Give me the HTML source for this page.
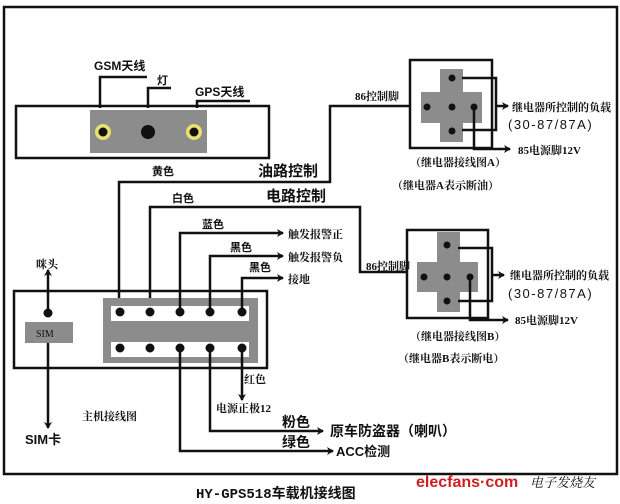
<!DOCTYPE html>
<html><head><meta charset="utf-8"><style>
html,body{margin:0;padding:0;background:#fff;}
svg{display:block;}
text{font-family:"Liberation Sans","Noto Sans CJK SC",sans-serif;fill:#111;}
.s{font-family:"Liberation Serif","Noto Serif CJK SC",serif;}
</style></head><body>
<svg width="620" height="504" viewBox="0 0 620 504" xmlns="http://www.w3.org/2000/svg">
<defs>
<marker id="a" markerWidth="8" markerHeight="8" refX="6" refY="4" orient="auto" markerUnits="userSpaceOnUse">
<path d="M0,0 L7,4 L0,8 L2,4 z" fill="#111"/></marker>
</defs>
<g fill="none" stroke="#111" stroke-width="2.5">
<rect x="4" y="7" width="613" height="467"/>
<rect x="16" y="106" width="253" height="52"/>
</g>
<rect x="90" y="110" width="117" height="43" fill="#8c8c8c"/>
<circle cx="103" cy="132" r="8" fill="#e8e070"/><circle cx="103" cy="132" r="4.5" fill="#111"/>
<circle cx="148" cy="132" r="7" fill="#111"/>
<circle cx="194" cy="132" r="8" fill="#e8e070"/><circle cx="194" cy="132" r="4.5" fill="#111"/>
<g fill="none" stroke="#111" stroke-width="2.5">
<polyline points="100,108 100,77 147,77"/>
<polyline points="148,108 148,88 171,88"/>
<polyline points="197,108 197,101 250,101"/>
<polyline points="119,312 119,182 330,182 330,106 410,106"/>
<polyline points="150,312 150,207 360,207 360,272 407,272"/>
<rect x="410" y="60" width="82" height="88"/>
<rect x="407" y="230" width="81" height="88"/>
<rect x="14" y="291" width="253" height="77"/>
</g>
<rect x="440" y="69" width="23" height="73" fill="#8c8c8c"/>
<rect x="421" y="92" width="61" height="31" fill="#8c8c8c"/>
<g fill="#111"><circle cx="452" cy="78" r="3.5"/><circle cx="427" cy="107" r="3.5"/><circle cx="452" cy="107" r="3.5"/><circle cx="474" cy="107" r="3.5"/><circle cx="452" cy="131" r="3.5"/></g>
<g fill="none" stroke="#111" stroke-width="2.5">
<polyline points="462,78 496,78 496,130 462,130"/>
<polyline points="474,107 474,149 501,149"/>
<line x1="496" y1="106" x2="508" y2="106" marker-end="url(#a)"/>
<line x1="500" y1="149" x2="510" y2="149" marker-end="url(#a)"/>
</g>
<rect x="437" y="232" width="23" height="80" fill="#8c8c8c"/>
<rect x="417" y="262" width="61" height="30" fill="#8c8c8c"/>
<g fill="#111"><circle cx="447" cy="245" r="3.5"/><circle cx="424" cy="277" r="3.5"/><circle cx="447" cy="277" r="3.5"/><circle cx="470" cy="277" r="3.5"/><circle cx="447" cy="301" r="3.5"/></g>
<g fill="none" stroke="#111" stroke-width="2.5">
<polyline points="458,248 492,248 492,301 458,301"/>
<polyline points="470,280 470,320 498,320"/>
<line x1="492" y1="275" x2="504" y2="275" marker-end="url(#a)"/>
<line x1="497" y1="320" x2="508" y2="320" marker-end="url(#a)"/>
</g>
<rect x="103" y="298" width="155" height="65" fill="#8c8c8c"/>
<rect x="111" y="306" width="138" height="15" fill="#fff"/>
<rect x="111" y="342" width="138" height="15" fill="#fff"/>
<g fill="#111">
<circle cx="120" cy="312" r="4.5"/><circle cx="150" cy="312" r="4.5"/><circle cx="180" cy="312" r="4.5"/><circle cx="210" cy="312" r="4.5"/><circle cx="242" cy="312" r="4.5"/>
<circle cx="120" cy="348" r="4.5"/><circle cx="150" cy="348" r="4.5"/><circle cx="180" cy="348" r="4.5"/><circle cx="210" cy="348" r="4.5"/><circle cx="242" cy="348" r="4.5"/>
</g>
<g fill="none" stroke="#111" stroke-width="2.5">
<polyline points="180,312 180,233 283,233" marker-end="url(#a)"/>
<polyline points="210,312 210,256 283,256" marker-end="url(#a)"/>
<polyline points="242,312 242,278 283,278" marker-end="url(#a)"/>
<line x1="242" y1="348" x2="242" y2="400" marker-end="url(#a)"/>
<polyline points="210,348 210,431 323,431" marker-end="url(#a)"/>
<polyline points="180,348 180,451 333,451" marker-end="url(#a)"/>
<line x1="48" y1="313" x2="48" y2="270" marker-end="url(#a)"/>
<line x1="48" y1="343" x2="48" y2="428" marker-end="url(#a)"/>
</g>
<circle cx="48" cy="313" r="4.5" fill="#111"/>
<rect x="25" y="322" width="48" height="21" fill="#8c8c8c"/>
<text x="36" y="337" font-size="10" class="s" fill="#fff">SIM</text>
<g font-size="12" font-weight="bold">
<text x="94" y="70">GSM天线</text>
<text x="157" y="84" font-size="11">灯</text>
<text x="195" y="96">GPS天线</text>
<text x="152" y="175" font-size="11">黄色</text>
<text x="258" y="176" font-size="15">油路控制</text>
<text x="266" y="201" font-size="15">电路控制</text>
<text x="172" y="202" font-size="11">白色</text>
<text x="202" y="228" font-size="11">蓝色</text>
<text x="230" y="251" font-size="11">黑色</text>
<text x="249" y="271" font-size="11">黑色</text>
<text x="288" y="238" font-size="11" class="s">触发报警正</text>
<text x="288" y="261" font-size="11" class="s">触发报警负</text>
<text x="288" y="283" font-size="11" class="s">接地</text>
<text x="36" y="268" font-size="11" class="s">咪头</text>
<text x="25" y="444" font-size="13">SIM卡</text>
<text x="82" y="420" font-size="11" class="s">主机接线图</text>
<text x="244" y="383" font-size="11" class="s">红色</text>
<text x="216" y="412" font-size="11" class="s">电源正极12</text>
<text x="282" y="427" font-size="14">粉色</text>
<text x="282" y="447" font-size="14">绿色</text>
<text x="330" y="436" font-size="14">原车防盗器（喇叭）</text>
<text x="336" y="456" font-size="13">ACC检测</text>
<text x="355" y="100" font-size="11" class="s">86控制脚</text>
<text x="366" y="270" font-size="11" class="s">86控制脚</text>
<text x="512" y="111" font-size="11" class="s">继电器所控制的负载</text>
<text x="508" y="129" font-size="13" font-weight="normal" letter-spacing="1.5">(30-87/87A)</text>
<text x="518" y="154" font-size="11" class="s">85电源脚12V</text>
<text x="410" y="166" font-size="11" class="s">（继电器接线图A）</text>
<text x="392" y="189" font-size="11" class="s">（继电器A表示断油）</text>
<text x="510" y="279" font-size="11" class="s">继电器所控制的负载</text>
<text x="508" y="298" font-size="13" font-weight="normal" letter-spacing="1.5">(30-87/87A)</text>
<text x="515" y="324" font-size="11" class="s">85电源脚12V</text>
<text x="410" y="340" font-size="11" class="s">（继电器接线图B）</text>
<text x="398" y="362" font-size="11" class="s">（继电器B表示断电）</text>
<text x="196" y="498" font-size="14" style="font-family:'Liberation Mono','Noto Sans CJK SC',monospace">HY-GPS518车载机接线图</text>
</g>
<text x="416" y="487" font-size="16" font-weight="bold" fill="#d02020" style="fill:#d02020">elecfans·com</text>
<text x="530" y="487" font-size="13" class="s" style="font-style:italic">电子发烧友</text>
</svg>
</body></html>
